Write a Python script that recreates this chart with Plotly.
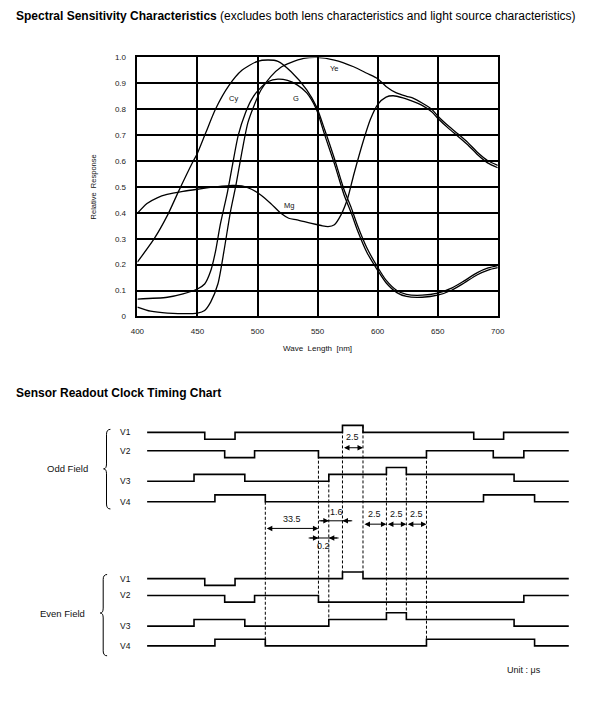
import plotly.graph_objects as go

FONT = "Liberation Sans, Arial, sans-serif"

# ---------------- Spectral sensitivity data ----------------
wl_cy = [400, 414, 425, 434, 446, 450, 457, 465, 476, 487, 500, 509, 517, 528, 541, 549, 556, 564,
         572, 578, 583, 591, 600, 607, 616, 624, 637, 650, 662, 672, 683, 692, 700]
cy = [0.21, 0.30, 0.39, 0.48, 0.595, 0.63, 0.71, 0.80, 0.89, 0.95, 0.985, 0.99, 0.985, 0.945, 0.875,
      0.81, 0.72, 0.61, 0.49, 0.42, 0.354, 0.265, 0.19, 0.14, 0.10, 0.085, 0.082, 0.09, 0.11, 0.137,
      0.169, 0.187, 0.196]

wl_g = [400, 425, 438, 450, 456, 461, 465, 469, 475, 479, 484, 490, 495, 500, 509, 517, 525, 533, 541,
        549, 556, 564, 572, 578, 583, 591, 600, 607, 616, 624, 637, 650, 662, 672, 683, 692, 700]
g = [0.067, 0.074, 0.087, 0.106, 0.125, 0.175, 0.25, 0.354, 0.48, 0.58, 0.70, 0.786, 0.837, 0.87,
     0.907, 0.916, 0.911, 0.894, 0.863, 0.80, 0.70, 0.59, 0.47, 0.40, 0.335, 0.248, 0.178, 0.13,
     0.092, 0.077, 0.074, 0.082, 0.102, 0.129, 0.161, 0.179, 0.188]

wl_ye = [400, 411, 425, 450, 456, 461, 467, 472, 477.5, 482, 487, 492, 498, 503, 511, 519.5, 527.6,
         538.5, 549, 564, 580, 591, 600, 607, 615.6, 624, 629, 637, 645, 650, 659, 667, 675, 683,
         691.5, 700]
ye = [0.036, 0.02, 0.013, 0.013, 0.023, 0.055, 0.125, 0.25, 0.405, 0.506, 0.634, 0.748, 0.824, 0.875,
      0.926, 0.962, 0.98, 0.996, 1.0, 0.99, 0.964, 0.939, 0.918, 0.888, 0.863, 0.85, 0.844, 0.824,
      0.80, 0.774, 0.735, 0.704, 0.672, 0.634, 0.602, 0.583]

wl_mg = [400, 408, 416.5, 424.7, 438, 450, 465, 479, 487, 495, 503, 511, 519.5, 526, 533, 544, 553,
         558.7, 564, 569.5, 575, 580, 588.5, 594, 600, 607, 613, 621, 626, 637, 645, 650, 659, 667,
         675, 683, 691.5, 700]
mg = [0.398, 0.436, 0.458, 0.471, 0.483, 0.491, 0.50, 0.506, 0.504, 0.491, 0.468, 0.436, 0.398, 0.379,
      0.373, 0.36, 0.351, 0.347, 0.354, 0.392, 0.455, 0.545, 0.684, 0.761, 0.818, 0.847, 0.852, 0.844,
      0.836, 0.815, 0.79, 0.765, 0.726, 0.695, 0.663, 0.625, 0.593, 0.574]

x_ticks = [400, 450, 500, 550, 600, 650, 700]
y_ticks = [0, 0.1, 0.2, 0.3, 0.4, 0.5, 0.6, 0.7, 0.8, 0.9, 1.0]
y_tick_text = ["0", "0.1", "0.2", "0.3", "0.4", "0.5", "0.6", "0.7", "0.8", "0.9", "1.0"]

curve_names = ["Cy", "G", "Ye", "Mg"]
curve_label_wl = [480, 532, 564, 526]
curve_label_val = [0.843, 0.841, 0.958, 0.427]

# ---------------- Timing chart data (diagram x units) ----------------
signal_names = ["V1", "V2", "V3", "V4"]
odd_v1_edges = [202.3, 233.3, 343.3, 364.3, 477.7, 508.3]
odd_v1_levels = [1, 0, 1, 2, 1, 0, 1]
odd_v2_edges = [222.7, 253.3, 318.7, 429.3, 497.7, 529.0]
odd_v2_levels = [1, 0, 1, 0, 1, 0, 1]
odd_v3_edges = [191.3, 243.3, 329.3, 388.3, 408.7, 519.0]
odd_v3_levels = [0, 1, 0, 1, 2, 1, 0]
odd_v4_edges = [212.7, 264.3, 487.7, 540.0]
odd_v4_levels = [0, 1, 0, 1, 0]

even_v1_edges = [202.3, 233.3, 343.3, 364.3]
even_v1_levels = [1, 0, 1, 2, 1]
even_v2_edges = [222.7, 253.3, 318.7, 529.0]
even_v2_levels = [1, 0, 1, 0, 1]
even_v3_edges = [191.3, 243.3, 329.3, 388.3, 408.7, 519.0]
even_v3_levels = [0, 1, 0, 1, 2, 1, 0]
even_v4_edges = [212.7, 264.3, 429.3, 540.0]
even_v4_levels = [0, 1, 0, 1, 0]

dim_labels = ["2.5", "33.5", "1.6", "0.2", "2.5", "2.5", "2.5"]

# ---------------- layout geometry ----------------
# The page places the figure 8px in from the window corner; the overlay axes
# are shifted so that their units equal window pixels.
W, H = 600, 714
OFF = 8
T_X0, T_X1 = 143.3, 575.0
odd_base = [440.7, 459.3, 483.3, 504.0]
even_base = [588.7, 605.7, 630.0, 650.0]
odd_step, even_step = 7.0, 6.8

fig = go.Figure()

# spectral curves
for wl, val in [(wl_cy, cy), (wl_g, g), (wl_ye, ye), (wl_mg, mg)]:
    fig.add_trace(go.Scatter(x=wl, y=val, mode="lines", xaxis="x", yaxis="y",
                             line=dict(color="black", width=1.3, shape="spline", smoothing=0.7),
                             hoverinfo="skip", showlegend=False))


def step_xy(edges, levels, base, step):
    xs = [T_X0]
    ys = [base - levels[0] * step]
    for e, lv in zip(edges, levels[1:]):
        xs += [e, e]
        ys += [ys[-1], base - lv * step]
    xs.append(T_X1)
    ys.append(ys[-1])
    return xs, ys


odd = [(odd_v1_edges, odd_v1_levels), (odd_v2_edges, odd_v2_levels),
       (odd_v3_edges, odd_v3_levels), (odd_v4_edges, odd_v4_levels)]
even = [(even_v1_edges, even_v1_levels), (even_v2_edges, even_v2_levels),
        (even_v3_edges, even_v3_levels), (even_v4_edges, even_v4_levels)]


def lvl_y(group, i, lv):
    if group == "odd":
        return odd_base[i] - lv * odd_step
    return even_base[i] - lv * even_step


annotations = []
for group, sigs, bases, step in [("odd", odd, odd_base, odd_step), ("even", even, even_base, even_step)]:
    for i, (edges, levels) in enumerate(sigs):
        xs, ys = step_xy(edges, levels, bases[i], step)
        fig.add_trace(go.Scatter(x=xs, y=ys, mode="lines", xaxis="x2", yaxis="y2",
                                 line=dict(color="black", width=1.6),
                                 hoverinfo="skip", showlegend=False))
        annotations.append(dict(x=121, y=ys[0], xref="x2", yref="y2", text=signal_names[i],
                                showarrow=False, font=dict(size=8.5, color="#111", family=FONT)))

# dashed reference lines
dashes = [
    (odd_v4_edges[1], lvl_y("odd", 3, 0), lvl_y("even", 3, 0)),
    (odd_v2_edges[2], lvl_y("odd", 1, 1), lvl_y("even", 1, 1)),
    (odd_v3_edges[2], lvl_y("odd", 2, 1), lvl_y("even", 2, 1)),
    (odd_v1_edges[2], lvl_y("odd", 0, 2), lvl_y("even", 0, 2)),
    (odd_v1_edges[3], lvl_y("odd", 0, 2), lvl_y("even", 0, 2)),
    (odd_v3_edges[3], lvl_y("odd", 2, 2), lvl_y("even", 2, 2)),
    (odd_v3_edges[4], lvl_y("odd", 2, 2), lvl_y("even", 2, 2)),
    (odd_v2_edges[3], lvl_y("odd", 1, 1), lvl_y("even", 3, 1)),
]
dx, dy = [], []
for x, y0, y1 in dashes:
    dx += [x, x, None]
    dy += [y0, y1, None]
fig.add_trace(go.Scatter(x=dx, y=dy, mode="lines", xaxis="x2", yaxis="y2",
                         line=dict(color="black", width=1, dash="3px,2px"),
                         hoverinfo="skip", showlegend=False))


def double_arrow(xa, xb, y):
    annotations.append(dict(x=xb, y=y, ax=xa, ay=y, xref="x2", yref="y2", axref="x2", ayref="y2",
                            text="", showarrow=True, arrowhead=2, arrowsize=1.1, arrowwidth=1,
                            arrowside="end+start", arrowcolor="black"))


def inward_arrow(xa, xb, y, ext):
    fig.add_trace(go.Scatter(x=[xa - ext, xb + ext], y=[y, y], mode="lines", xaxis="x2", yaxis="y2",
                             line=dict(color="black", width=1), hoverinfo="skip", showlegend=False))
    for tip, tail in [(xa, xa - ext), (xb, xb + ext)]:
        annotations.append(dict(x=tip, y=y, ax=tail, ay=y, xref="x2", yref="y2", axref="x2",
                                ayref="y2", text="", showarrow=True, arrowhead=2, arrowsize=1.1,
                                arrowwidth=1, arrowcolor="black"))


def label(x, y, txt, size=9, **kw):
    d = dict(x=x, y=y, xref="x2", yref="y2", text=txt, showarrow=False,
             font=dict(size=size, color="#111", family=FONT))
    d.update(kw)
    annotations.append(d)


double_arrow(odd_v1_edges[2], odd_v1_edges[3], 449.3)
label((odd_v1_edges[2] + odd_v1_edges[3]) / 2, 438.3, dim_labels[0])

double_arrow(odd_v4_edges[1], odd_v2_edges[2], 531.0)
label((odd_v4_edges[1] + odd_v2_edges[2]) / 2, 521.7, dim_labels[1])

inward_arrow(odd_v3_edges[2], odd_v1_edges[2], 523.3, 10)
label((odd_v3_edges[2] + odd_v1_edges[2]) / 2 + 1, 514.3, dim_labels[2])

inward_arrow(odd_v2_edges[2], odd_v3_edges[2], 540.7, 10)
label((odd_v2_edges[2] + odd_v3_edges[2]) / 2 - 0.5, 548.8, dim_labels[3])

segs = [odd_v1_edges[3], odd_v3_edges[3], odd_v3_edges[4], odd_v2_edges[3]]
for k in range(3):
    double_arrow(segs[k], segs[k + 1], 526.7)
    label((segs[k] + segs[k + 1]) / 2, 516.7, dim_labels[4 + k])


def brace(x, top, bot, tip_y, w=4.0, tip=3.0):
    r = 5.0
    return (f"M {x + w},{top} Q {x},{top} {x},{top + r} L {x},{tip_y - r} "
            f"Q {x},{tip_y} {x - tip},{tip_y} Q {x},{tip_y} {x},{tip_y + r} "
            f"L {x},{bot - r} Q {x},{bot} {x + w},{bot}")


shapes = [
    dict(type="path", xref="x2", yref="y2", path=brace(101.7, 430.7, 511.3, 470.7),
         line=dict(color="black", width=1)),
    dict(type="path", xref="x2", yref="y2", path=brace(98.3, 577.7, 660.0, 616.7),
         line=dict(color="black", width=1)),
]

label(84.5, 470.7, "Odd Field", 9.5, xanchor="right")
label(82.0, 617.0, "Even Field", 9.5, xanchor="right")
label(529.0, 674.3, "Unit : μs", 9)

# titles
label(OFF, 12.5,
      "<b>Spectral Sensitivity Characteristics</b> (excludes both lens characteristics and light source characteristics)",
      12, xanchor="left", borderpad=0)
annotations[-1]["font"]["color"] = "black"
label(OFF, 393.5, "<b>Sensor Readout Clock Timing Chart</b>", 12, xanchor="left", borderpad=0)
annotations[-1]["font"]["color"] = "black"

# spectral axis titles and curve labels
label(88.5, 185, "Relative  Response", 7.5, textangle=-90)
label(317.5, 349, "Wave  Length  [nm]", 8)
for n, xw, yv in zip(curve_names, curve_label_wl, curve_label_val):
    annotations.append(dict(x=xw, y=yv, xref="x", yref="y", text=n, showarrow=False,
                            font=dict(size=7.5, color="#111", family=FONT)))

# spectral plot-area corners in window pixels
px0, px1 = 133.3, 502.3
py_top, py_bot = 54.0, 316.3

fig.update_layout(
    width=W, height=H,
    margin=dict(l=0, r=0, t=0, b=0),
    paper_bgcolor="white", plot_bgcolor="rgba(0,0,0,0)",
    font=dict(family=FONT, color="#111"),
    showlegend=False,
    xaxis=dict(domain=[(px0 - OFF) / W, (px1 - OFF) / W], range=[400, 700], tickvals=x_ticks,
               showgrid=True, gridcolor="black", gridwidth=1.5, zeroline=False,
               showline=True, mirror=True, linecolor="black", linewidth=1.5,
               ticks="outside", ticklen=6, tickcolor="rgba(0,0,0,0)",
               tickfont=dict(size=8, color="#222"), fixedrange=True, anchor="y"),
    yaxis=dict(domain=[1 - (py_bot - OFF) / H, 1 - (py_top - OFF) / H], range=[0, 1],
               tickvals=y_ticks, ticktext=y_tick_text,
               showgrid=True, gridcolor="black", gridwidth=1.5, zeroline=False,
               showline=True, mirror=True, linecolor="black", linewidth=1.5,
               ticks="outside", ticklen=8, tickcolor="rgba(0,0,0,0)",
               tickfont=dict(size=8, color="#222"), fixedrange=True, anchor="x"),
    xaxis2=dict(domain=[0, 1], range=[OFF, W + OFF], visible=False, fixedrange=True, anchor="y2"),
    yaxis2=dict(domain=[0, 1], range=[H + OFF, OFF], visible=False, fixedrange=True, anchor="x2"),
    annotations=annotations,
    shapes=shapes,
)

fig.write_html("out.html")
